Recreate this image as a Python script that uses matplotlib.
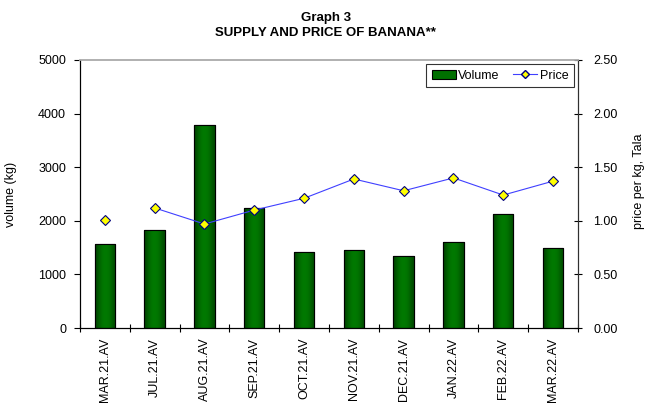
import numpy as np
import matplotlib.pyplot as plt
from matplotlib.patches import Patch
from matplotlib.lines import Line2D

plt.rcParams['font.family'] = ['Liberation Sans', 'DejaVu Sans']

months = ["MAR.21.AV", "JUL.21.AV", "AUG.21.AV", "SEP.21.AV", "OCT.21.AV",
          "NOV.21.AV", "DEC.21.AV", "JAN.22.AV", "FEB.22.AV", "MAR.22.AV"]
volume = [1560, 1820, 3780, 2245, 1420, 1450, 1345, 1605, 2125, 1500]
price = [1.01, 1.12, 0.97, 1.10, 1.21, 1.39, 1.28, 1.40, 1.24, 1.37]

fs = 9
fig = plt.figure(figsize=(6.46, 4.05), dpi=100)
ax = fig.add_axes([0.1238, 0.1901, 0.7709, 0.6618])
ax2 = ax.twinx()

x = np.arange(len(months))
bars = ax.bar(x, volume, width=0.41, color="#007000", edgecolor="black",
              linewidth=0.8, zorder=2)

# horizontal shading on the bars, darker at the sides
grad = np.array([[0.25, 0.55, 0.8, 0.95, 1.0, 0.95, 0.85, 0.6, 0.35]])
cmap = plt.matplotlib.colors.LinearSegmentedColormap.from_list(
    "g", ["#003300", "#007a00"])
for b in bars:
    x0, w, h = b.get_x(), b.get_width(), b.get_height()
    im = ax.imshow(grad, cmap=cmap, vmin=0, vmax=1, aspect="auto",
                   extent=[x0, x0 + w, 0, h], zorder=2.5, interpolation="bicubic")
    im.set_clip_path(b)
for b in bars:
    ax.add_patch(plt.Rectangle((b.get_x(), 0), b.get_width(), b.get_height(),
                               fill=False, edgecolor="black", linewidth=0.8, zorder=3))

ax.set_xlim(-0.5, len(months) - 0.5)
ax.set_ylim(0, 5000)
ax.set_yticks(np.arange(0, 5001, 1000))
ax.set_xticks(x)
ax.set_xticklabels(months, rotation=90, fontsize=fs)
ax.set_xticks(np.arange(-0.5, len(months), 1), minor=True)
ax.tick_params(axis="x", which="major", length=0, pad=7)
ax.tick_params(axis="x", which="minor", length=6, direction="inout", width=0.8)
ax.tick_params(axis="y", labelsize=fs, length=4, width=0.8, pad=6)
ax.set_ylabel("volume (kg)", fontsize=fs)
ax.yaxis.set_label_coords(-0.1265, 0.5)

ax2.plot(x[0], price[0], linestyle="none", marker="D", markersize=5,
         markerfacecolor="#ffff00", markeredgecolor="#000080",
         markeredgewidth=0.8, zorder=4)
ax2.plot(x[1:], price[1:], color="#4040ff", linewidth=0.8, marker="D",
         markersize=5, markerfacecolor="#ffff00", markeredgecolor="#000080",
         markeredgewidth=0.8, zorder=4)
ax2.set_ylim(0, 2.5)
ax2.set_yticks(np.arange(0, 2.51, 0.5))
ax2.set_yticklabels(["%.2f" % v for v in np.arange(0, 2.51, 0.5)])
ax2.tick_params(axis="y", labelsize=fs, length=6, width=0.8,
                direction="inout", pad=8)
ax2.set_ylabel("price per kg, Tala", fontsize=fs)
ax2.yaxis.set_label_coords(1.11, 0.549)

for a in (ax, ax2):
    a.spines["top"].set_color("#b0b0b0")
    a.spines["top"].set_linewidth(1.2)
    a.spines["left"].set_linewidth(0.8)
    a.spines["bottom"].set_linewidth(0.8)
    a.spines["right"].set_color("#303030")
    a.spines["right"].set_linewidth(0.8)

handles = [Patch(facecolor="#007000", edgecolor="black", linewidth=0.8),
           Line2D([], [], color="#4040ff", linewidth=0.8, marker="D",
                  markersize=4, markerfacecolor="#ffff00",
                  markeredgecolor="#000080")]
leg = ax2.legend(handles, ["Volume", "Price"], loc="upper right", ncol=2,
                 fontsize=fs, frameon=True, fancybox=False, edgecolor="black",
                 handlelength=1.9, handletextpad=0.2, columnspacing=1.1,
                 borderpad=0.45, borderaxespad=0,
                 bbox_to_anchor=(0.992, 0.985))
leg.get_frame().set_linewidth(0.8)

fig.text(0.504, 0.955, "Graph 3", ha="center", va="center",
         fontsize=9.5, fontweight="bold")
fig.text(0.504, 0.918, "SUPPLY AND PRICE OF BANANA**", ha="center",
         va="center", fontsize=9.5, fontweight="bold")

fig.savefig("out.png", dpi=100)
